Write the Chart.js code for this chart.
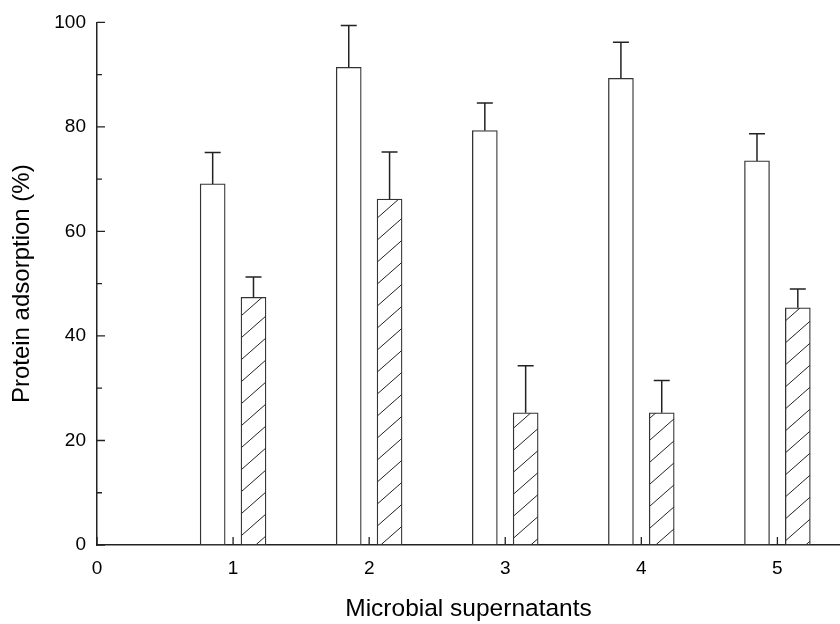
<!DOCTYPE html>
<html>
<head>
<meta charset="utf-8">
<script src="https://cdn.jsdelivr.net/npm/chart.js@4/dist/chart.umd.min.js"></script>
<style>
  html, body { margin: 0; padding: 0; background: #fff; }
  #wrap { width: 840px; height: 624px; }
</style>
</head>
<body>
<div id="wrap"><canvas id="chart"></canvas></div>
<script>
// data
const categories = [1, 2, 3, 4, 5];
const whiteValues = [69.1, 91.4, 79.3, 89.3, 73.5];
const whiteErrors = [6.0, 8.0, 5.3, 6.9, 5.2];
const hatchValues = [47.4, 66.2, 25.3, 25.3, 45.4];
const hatchErrors = [3.9, 9.0, 9.0, 6.2, 3.6];
const yMinorTicks = [10, 30, 50, 70, 90];

const OFFSET = 0.15;
const FONT = '"Liberation Sans", Arial, sans-serif';
const INK = '#222';

// diagonal hatch
function makeHatch() {
    const c = document.createElement('canvas');
    c.width = 25; c.height = 22;
    const g = c.getContext('2d');
    g.fillStyle = '#fff';
    g.fillRect(0, 0, 25, 22);
    g.strokeStyle = INK;
    g.lineWidth = 1;
    g.beginPath();
    g.moveTo(-2, 22 + 1.76); g.lineTo(27, -1.76);
    g.stroke();
    return g.createPattern(c, 'repeat');
}

const pairs = (vals, off) => vals.map((v, i) => ({ x: categories[i] + off, y: v }));

// error bars (up only) and inward tick marks
const extras = {
    id: 'extras',
    afterDatasetsDraw(chart) {
        const ctx = chart.ctx;
        const xs = chart.scales.x, ys = chart.scales.y;
        ctx.save();
        ctx.strokeStyle = INK;
        ctx.lineWidth = 1.5;
        chart.data.datasets.forEach((ds, i) => {
            chart.getDatasetMeta(i).data.forEach((bar, j) => {
                const top = ys.getPixelForValue(ds.data[j].y + ds.errors[j]);
                ctx.beginPath();
                ctx.moveTo(bar.x, bar.y);
                ctx.lineTo(bar.x, top);
                ctx.moveTo(bar.x - 8, top);
                ctx.lineTo(bar.x + 8, top);
                ctx.stroke();
            });
        });
        ctx.lineWidth = 1.3;
        const x0 = xs.left, y0 = ys.bottom;
        ctx.beginPath();
        ys.ticks.forEach(t => {
            const p = ys.getPixelForValue(t.value);
            ctx.moveTo(x0, p); ctx.lineTo(x0 + 8, p);
        });
        yMinorTicks.forEach(v => {
            const p = ys.getPixelForValue(v);
            ctx.moveTo(x0, p); ctx.lineTo(x0 + 5, p);
        });
        xs.ticks.forEach(t => {
            const p = xs.getPixelForValue(t.value);
            ctx.moveTo(p, y0); ctx.lineTo(p, y0 - 8);
        });
        ctx.stroke();
        ctx.restore();
    }
};

new Chart(document.getElementById('chart'), {
    type: 'bar',
    data: {
        datasets: [{
            label: 'white',
            data: pairs(whiteValues, -OFFSET),
            errors: whiteErrors,
            backgroundColor: '#fff',
            borderColor: '#333',
            borderWidth: 1.3,
            borderSkipped: false,
            barThickness: 25
        }, {
            label: 'hatched',
            data: pairs(hatchValues, OFFSET),
            errors: hatchErrors,
            backgroundColor: makeHatch(),
            borderColor: '#333',
            borderWidth: 1.3,
            borderSkipped: false,
            barThickness: 25
        }]
    },
    options: {
        responsive: true,
        maintainAspectRatio: false,
        animation: false,
        grouped: false,
        layout: { padding: { top: 22, right: 0, left: 0, bottom: 0 } },
        plugins: { legend: { display: false }, tooltip: { enabled: false } },
        scales: {
            x: {
                type: 'linear',
                offset: false,
                min: 0,
                max: 5.46,
                grid: { display: false, drawTicks: false, offset: false },
                border: { color: INK, width: 1.5 },
                ticks: { stepSize: 1, includeBounds: false, padding: 12, color: '#000', font: { family: FONT, size: 19 } },
                afterBuildTicks: s => { s.ticks = s.ticks.filter(t => Number.isInteger(t.value)); },
                afterFit: s => { s.height = 79; },
                title: {
                    display: true,
                    text: 'Microbial supernatants',
                    color: '#000',
                    font: { family: FONT, size: 24.5 },
                    padding: { top: 0, bottom: 0 }
                }
            },
            y: {
                min: 0,
                max: 100,
                grid: { display: false, drawTicks: false },
                border: { color: INK, width: 1.5 },
                ticks: { stepSize: 20, padding: 11, color: '#000', font: { family: FONT, size: 19 } },
                afterFit: s => { s.width = 97; },
                title: {
                    display: true,
                    text: 'Protein adsorption (%)',
                    color: '#000',
                    font: { family: FONT, size: 24 },
                    padding: { top: 8, bottom: 0 }
                }
            }
        }
    },
    plugins: [extras]
});
</script>
</body>
</html>
